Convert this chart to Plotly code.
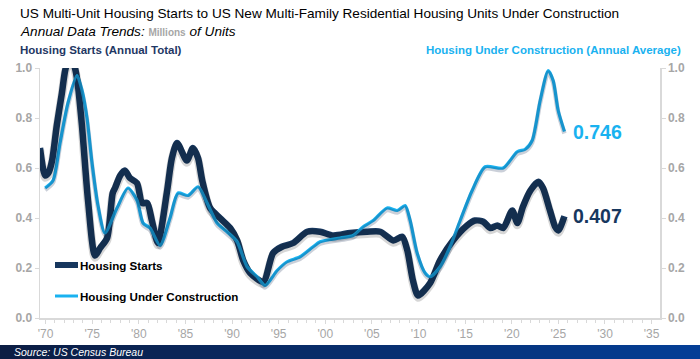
import plotly.graph_objects as go

# ---- data (millions of units) ----
starts_years = [1969.4, 1969.95, 1970.3, 1970.7, 1971.2, 1971.75, 1972.1, 1972.6, 1973.15, 1973.4,
                1973.9, 1974.55, 1975.3, 1975.85, 1976.6, 1977.2, 1977.45, 1978.0, 1978.5, 1979.05,
                1979.8, 1980.35, 1980.9, 1981.4, 1982.05, 1983.0, 1983.55, 1984.1, 1985.15, 1985.8,
                1986.35, 1986.8, 1987.65, 1988.7, 1989.8, 1990.55, 1991.2, 1991.95, 1993.35, 1994.4,
                1995.35, 1996.55, 1998.05, 1999.45, 2000.85, 2002.65, 2004.5, 2005.9, 2007.3, 2008.25,
                2008.8, 2009.4, 2009.95, 2011.25, 2012.3, 2013.7, 2015.2, 2016.05, 2016.95, 2017.7,
                2018.45, 2019.1, 2020.05, 2020.6, 2021.2, 2022.0, 2022.85, 2023.35, 2024.1, 2024.65,
                2025.0, 2025.65]
starts_vals = [0.68, 0.57, 0.58, 0.63, 0.77, 0.90, 0.99, 1.05, 1.00, 0.95,
               0.77, 0.47, 0.25, 0.28, 0.32, 0.50, 0.52, 0.57, 0.59, 0.56,
               0.54, 0.46, 0.46, 0.39, 0.30, 0.50, 0.64, 0.70, 0.63, 0.68,
               0.64, 0.55, 0.44, 0.40, 0.36, 0.31, 0.23, 0.18, 0.145, 0.26,
               0.285, 0.30, 0.345, 0.345, 0.33, 0.34, 0.345, 0.345, 0.31, 0.325,
               0.27, 0.15, 0.09, 0.14, 0.23, 0.31, 0.37, 0.39, 0.385, 0.36,
               0.37, 0.36, 0.43, 0.38, 0.445, 0.51, 0.545, 0.52, 0.43, 0.365,
               0.35, 0.407]

uc_years = [1969.95, 1970.8, 1971.55, 1972.4, 1973.37, 1973.91, 1974.44, 1974.98, 1975.62, 1976.37,
            1977.66, 1978.84, 1979.81, 1980.45, 1981.2, 1982.28, 1983.35, 1984.21, 1985.28, 1986.35,
            1987.32, 1988.39, 1989.46, 1990.54, 1991.61, 1992.68, 1993.54, 1994.83, 1995.9, 1997.3,
            1998.69, 1999.44, 2001.59, 2002.98, 2004.06, 2005.13, 2006.63, 2007.71, 2008.56, 2009.1,
            2009.85, 2010.71, 2011.25, 2012.32, 2013.39, 2014.47, 2015.75, 2017.15, 2019.08, 2020.58,
            2021.44, 2022.19, 2023.05, 2023.91, 2024.44, 2024.98, 2025.65]
uc_vals = [0.52, 0.55, 0.70, 0.86, 0.97, 0.91, 0.80, 0.62, 0.45, 0.34,
           0.44, 0.52, 0.47, 0.38, 0.36, 0.29, 0.40, 0.50, 0.49, 0.525,
           0.46, 0.38, 0.345, 0.305, 0.205, 0.165, 0.13, 0.19, 0.225, 0.245,
           0.285, 0.305, 0.32, 0.33, 0.365, 0.39, 0.44, 0.43, 0.45, 0.39,
           0.26, 0.18, 0.165, 0.205, 0.285, 0.39, 0.51, 0.605, 0.60, 0.665,
           0.675, 0.71, 0.87, 0.99, 0.95, 0.83, 0.746]

tick_years = list(range(1970, 2040, 5))
tick_labels = ["'70", "'75", "'80", "'85", "'90", "'95", "'00", "'05", "'10", "'15", "'20", "'25", "'30", "'35"]
y_ticks = [0.0, 0.2, 0.4, 0.6, 0.8, 1.0]

NAVY = "#17375e"
LIGHT = "#19b2f0"
GRAY = "#a6a6a6"
FONT = "Liberation Sans, Arial, sans-serif"

fig = go.Figure()

# soft drop shadows (same data on a slightly shifted overlay axis)
fig.add_trace(go.Scatter(x=starts_years, y=starts_vals, mode="lines", yaxis="y3",
                         line=dict(color="rgba(0,0,0,0.16)", width=8.5, shape="spline", smoothing=0.7),
                         hoverinfo="skip", showlegend=False))
fig.add_trace(go.Scatter(x=uc_years, y=uc_vals, mode="lines", yaxis="y3",
                         line=dict(color="rgba(20,40,80,0.22)", width=4.5, shape="spline", smoothing=0.7),
                         hoverinfo="skip", showlegend=False))

fig.add_trace(go.Scatter(x=starts_years, y=starts_vals, mode="lines", name="Housing Starts",
                         line=dict(color=NAVY, width=6.5, shape="spline", smoothing=0.7), showlegend=False))
fig.add_trace(go.Scatter(x=uc_years, y=uc_vals, mode="lines", name="Housing Under Construction",
                         yaxis="y2",
                         line=dict(color=LIGHT, width=3.2, shape="spline", smoothing=0.7), showlegend=False))

axis_common = dict(range=[0, 1], tickvals=y_ticks, tickformat=".1f", showgrid=False, zeroline=False,
                   showline=True, linecolor="#d9d9d9", linewidth=1.5, ticks="outside", ticklen=4,
                   tickcolor="#d9d9d9", tickfont=dict(family=FONT, size=12, color=GRAY, weight="bold"))

fig.update_layout(
    width=700, height=359,
    margin=dict(l=40, r=40, t=68, b=41),
    paper_bgcolor="white", plot_bgcolor="white",
    showlegend=False,
    hovermode=False,
    xaxis=dict(range=[1969.4, 2035.9], tickvals=tick_years, ticktext=tick_labels, showgrid=False,
               zeroline=False, showline=True, linecolor="#d9d9d9", linewidth=1.5,
               ticks="outside", ticklen=4, tickcolor="#d9d9d9",
               minor=dict(dtick=1, tick0=1970, ticks="outside", ticklen=3, tickcolor="#d9d9d9"),
               tickfont=dict(family=FONT, size=12, color=GRAY)),
    yaxis=dict(side="left", **axis_common),
    yaxis2=dict(side="right", overlaying="y", **axis_common),
    yaxis3=dict(overlaying="y", range=[0.008, 1.008], visible=False),
)

def px_x(p):
    return (p - 40) / 620.0

def px_y(p):
    return (318 - p) / 250.0

ann = []
ann.append(dict(text="US Multi-Unit Housing Starts to US New Multi-Family Residential Housing Units Under Construction",
                x=px_x(18), y=px_y(13), xref="paper", yref="paper", xanchor="left", yanchor="middle",
                showarrow=False, font=dict(family=FONT, size=13.6, color="black")))
ann.append(dict(text="<i>Annual Data Trends: </i><b><span style='font-size:10px;color:#a6a6a6'>Millions</span></b><i> of Units</i>",
                x=px_x(18), y=px_y(31), xref="paper", yref="paper", xanchor="left", yanchor="middle",
                showarrow=False, font=dict(family=FONT, size=13.6, color="black")))
ann.append(dict(text="<b>Housing Starts (Annual Total)</b>",
                x=px_x(18), y=px_y(50), xref="paper", yref="paper", xanchor="left", yanchor="middle",
                showarrow=False, font=dict(family=FONT, size=11.5, color="#1f3864")))
ann.append(dict(text="<b>Housing Under Construction (Annual Average)</b>",
                x=px_x(683), y=px_y(50), xref="paper", yref="paper", xanchor="right", yanchor="middle",
                showarrow=False, font=dict(family=FONT, size=11.5, color=LIGHT)))
# end labels
ann.append(dict(text="<b>%.3f</b>" % uc_vals[-1], x=uc_years[-1] + 0.7, y=uc_vals[-1], xref="x", yref="y",
                xanchor="left", yanchor="middle", showarrow=False, font=dict(family=FONT, size=19.5, color=LIGHT)))
ann.append(dict(text="<b>%.3f</b>" % starts_vals[-1], x=starts_years[-1] + 0.7, y=starts_vals[-1], xref="x", yref="y",
                xanchor="left", yanchor="middle", showarrow=False, font=dict(family=FONT, size=19.5, color=NAVY)))
# legend texts
ann.append(dict(text="<b>Housing Starts</b>", x=px_x(78), y=px_y(265), xref="paper", yref="paper",
                xanchor="left", yanchor="middle", showarrow=False, font=dict(family=FONT, size=11.6, color="black")))
ann.append(dict(text="<b>Housing Under Construction</b>", x=px_x(78), y=px_y(296), xref="paper", yref="paper",
                xanchor="left", yanchor="middle", showarrow=False, font=dict(family=FONT, size=11.6, color="black")))
# source
ann.append(dict(text="<i>Source: US Census Bureau</i>", x=px_x(12), y=px_y(352), xref="paper", yref="paper",
                xanchor="left", yanchor="middle", showarrow=False, font=dict(family=FONT, size=10.5, color="white")))
fig.update_layout(annotations=ann)

shapes = []
# footer gradient bar
n = 35
c0 = (12, 30, 68)
c1 = (4, 62, 150)
for i in range(n):
    t = i / (n - 1)
    col = "rgb(%d,%d,%d)" % tuple(int(c0[k] + (c1[k] - c0[k]) * t) for k in range(3))
    shapes.append(dict(type="rect", xref="paper", yref="paper",
                       x0=px_x(700 * i / n), x1=px_x(700 * (i + 1) / n + 0.5),
                       y0=px_y(359), y1=px_y(345), fillcolor=col, line=dict(width=0), layer="below"))
# legend symbols
shapes.append(dict(type="line", xref="paper", yref="paper", x0=px_x(55), x1=px_x(78), y0=px_y(265), y1=px_y(265),
                   line=dict(color=NAVY, width=6)))
shapes.append(dict(type="line", xref="paper", yref="paper", x0=px_x(55), x1=px_x(78), y0=px_y(296), y1=px_y(296),
                   line=dict(color=LIGHT, width=3)))
fig.update_layout(shapes=shapes)

fig.write_html("out.html", config={"displayModeBar": False, "staticPlot": True})

# remove default page margins so the 700x359 figure fills the window exactly
with open("out.html", "r", encoding="utf-8") as f:
    html = f.read()
html = html.replace("<head>", "<head><style>html,body{margin:0;padding:0;overflow:hidden;}</style>", 1)
with open("out.html", "w", encoding="utf-8") as f:
    f.write(html)
